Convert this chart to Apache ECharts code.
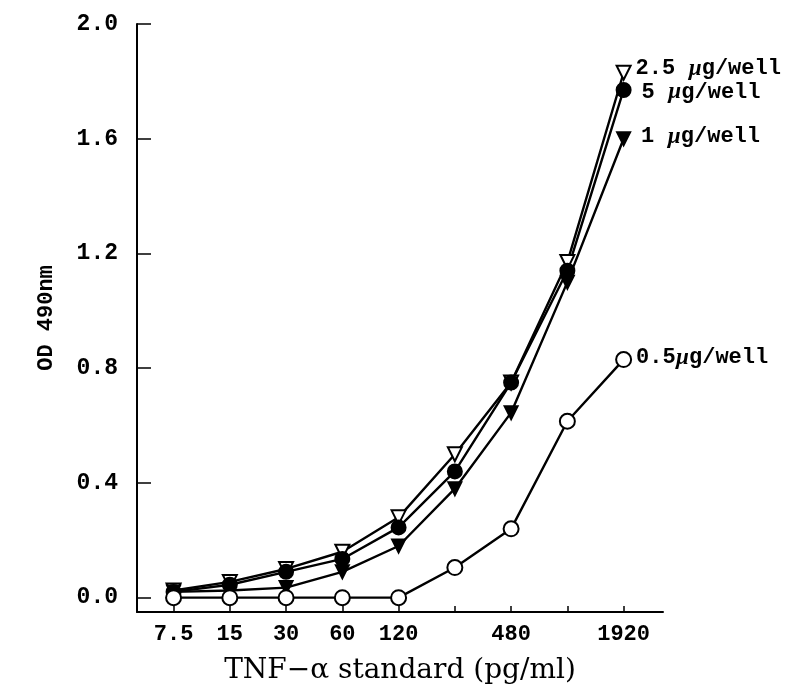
<!DOCTYPE html>
<html>
<head>
<meta charset="utf-8">
<script src="https://cdn.jsdelivr.net/npm/echarts@6/dist/echarts.min.js"></script>
<style>
  html, body { margin: 0; padding: 0; background: #fff; }
  #chart { width: 806px; height: 696px; }
</style>
</head>
<body>
<div id="chart"></div>
<script>
// TNF-alpha standard concentrations (pg/ml), two-fold dilutions
const concentrations = ['7.5', '15', '30', '60', '120', '240', '480', '960', '1920'];
const tickLabels = ['7.5', '15', '30', '60', '120', '', '480', '', '1920'];
const yTicks = [0, 0.4, 0.8, 1.2, 1.6, 2.0];

// OD 490nm readings for each antibody coating amount
const od_2_5ug = [0.025, 0.055, 0.10, 0.16, 0.28, 0.50, 0.75, 1.17, 1.83];
const od_5ug   = [0.02, 0.045, 0.09, 0.135, 0.245, 0.44, 0.75, 1.14, 1.77];
const od_1ug   = [0.02, 0.025, 0.035, 0.09, 0.18, 0.38, 0.645, 1.10, 1.60];
const od_0_5ug = [0, 0, 0, 0, 0, 0.105, 0.24, 0.615, 0.83];

const seriesLabels = ['2.5 µg/well', '5 µg/well', '1 µg/well', '0.5µg/well'];

const labelFont = 'Liberation Mono';
const ink = '#000';

function toPoints(values, label, labelOffset) {
  return values.map((v, i) => {
    const p = { value: [i, v] };
    if (i === values.length - 1) {
      p.label = {
        show: true,
        position: 'right',
        distance: 4,
        offset: labelOffset,
        formatter: () => {
          const parts = label.split('µ');
          return parts[0] + '{mu|µ}' + parts[1];
        },
        color: ink,
        fontFamily: labelFont,
        fontWeight: 'bold',
        fontSize: 22,
        rich: {
          mu: { fontFamily: 'Liberation Serif', fontStyle: 'italic', fontWeight: 'bold', fontSize: 23, color: ink }
        }
      };
    }
    return p;
  });
}

function lineSeries(name, values, symbol, filled, size, rotate, labelOffset) {
  return {
    name: name,
    type: 'line',
    data: toPoints(values, name, labelOffset),
    symbol: symbol,
    symbolSize: size,
    symbolRotate: rotate,
    showAllSymbol: true,
    lineStyle: { color: ink, width: 2.4 },
    itemStyle: { color: filled ? ink : '#fff', borderColor: ink, borderWidth: 2 },
    emphasis: { disabled: true },
    animation: false,
    z: 3
  };
}

const chart = echarts.init(document.getElementById('chart'), null, { renderer: 'canvas' });

chart.setOption({
  backgroundColor: '#fff',
  animation: false,
  grid: { left: 137, right: 143, top: 24, bottom: 84, containLabel: false },
  xAxis: {
    type: 'value',
    min: -0.65,
    max: 8.7,
    name: 'TNF−α standard (pg/ml)',
    nameLocation: 'middle',
    nameGap: 45,
    nameTextStyle: { fontFamily: 'DejaVu Serif', fontSize: 28, color: ink },
    axisLine: { show: true, onZero: false, lineStyle: { color: ink, width: 2 } },
    axisTick: {
      show: true, inside: true, length: 6,
      customValues: concentrations.map((_, i) => i),
      lineStyle: { color: ink, width: 1.5 }
    },
    axisLabel: {
      customValues: tickLabels.map((t, i) => (t ? i : null)).filter(v => v !== null),
      formatter: v => tickLabels[Math.round(v)],
      margin: 11,
      color: ink,
      fontFamily: labelFont,
      fontWeight: 'bold',
      fontSize: 22
    },
    splitLine: { show: false }
  },
  yAxis: {
    type: 'value',
    min: -0.05,
    max: 2.0,
    name: 'OD 490nm',
    nameLocation: 'middle',
    nameGap: 80,
    nameRotate: 90,
    nameTextStyle: { fontFamily: labelFont, fontWeight: 'bold', fontSize: 22, color: ink },
    axisLine: { show: true, onZero: false, lineStyle: { color: ink, width: 2 } },
    axisTick: {
      show: true, inside: true, length: 14,
      customValues: yTicks,
      lineStyle: { color: ink, width: 1.5 }
    },
    axisLabel: {
      customValues: yTicks,
      formatter: v => v.toFixed(1),
      margin: 19,
      color: ink,
      fontFamily: labelFont,
      fontWeight: 'bold',
      fontSize: 23
    },
    splitLine: { show: false }
  },
  series: [
    lineSeries(seriesLabels[0], od_2_5ug, 'triangle', false, 14, 180, [0, -4]),
    lineSeries(seriesLabels[1], od_5ug, 'circle', true, 14, 0, [6, 2]),
    lineSeries(seriesLabels[2], od_1ug, 'triangle', true, 13, 180, [6, -2]),
    lineSeries(seriesLabels[3], od_0_5ug, 'circle', false, 15, 0, [0, -2])
  ]
});
</script>
</body>
</html>
